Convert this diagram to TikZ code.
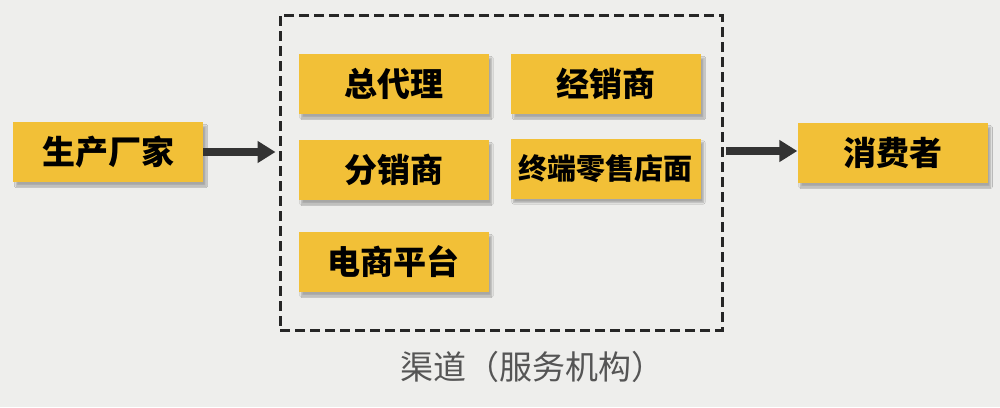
\documentclass[tikz,border=0pt]{standalone}
\usepackage{fontspec}
\newfontfamily\cjk{Noto Sans CJK SC}
\usetikzlibrary{arrows.meta,shadows.blur}
\definecolor{bg}{HTML}{EEEEEC}
\definecolor{boxy}{HTML}{F2C037}
\definecolor{arr}{HTML}{333333}
\definecolor{lbl}{HTML}{555555}
\tikzset{
  ybox/.style={fill=boxy, minimum width=190pt, minimum height=60pt, inner sep=0pt,
    font=\cjk\bfseries\fontsize{33pt}{35pt}\selectfont, text=black,
    blur shadow={shadow xshift=3pt, shadow yshift=-4pt, shadow blur steps=6, shadow opacity=30}},
  bigarrow/.style={draw=arr, line width=8pt, -{Triangle[length=18pt,width=21pt]}},
}
\begin{document}
\begin{tikzpicture}[x=1pt,y=-1pt]
\fill[bg] (0,0) rectangle (1000,407);
\useasboundingbox (0,0) rectangle (1000,407);
\node[draw=black!85, line width=3pt, dash pattern=on 10pt off 5pt, minimum width=442pt, minimum height=315pt, inner sep=0pt] (ch) at (501,172.5) {};
\node[ybox] (maker) at (108,152) {生产厂家};
\node[ybox] (agent) at (393.5,84) {总代理};
\node[ybox] (dealer) at (606,84) {经销商};
\node[ybox] (dist) at (393.5,170) {分销商};
\node[ybox, font=\cjk\bfseries\fontsize{29pt}{31pt}\selectfont] (retail) at (605.5,168.5) {终端零售店面};
\node[ybox] (ecom) at (393.5,262) {电商平台};
\node[ybox] (cons) at (892.5,153) {消费者};
\node[font=\cjk\fontsize{33pt}{35pt}\selectfont, text=lbl] (label) at (532,367) {渠道（服务机构）};
\draw[bigarrow, shorten >=3pt] (maker.east) -- (maker.east -| ch.west);
\draw[bigarrow, shorten <=2pt] (ch.east |- 0,151) coordinate (rs) -- (cons.west |- rs);
\end{tikzpicture}
\end{document}
